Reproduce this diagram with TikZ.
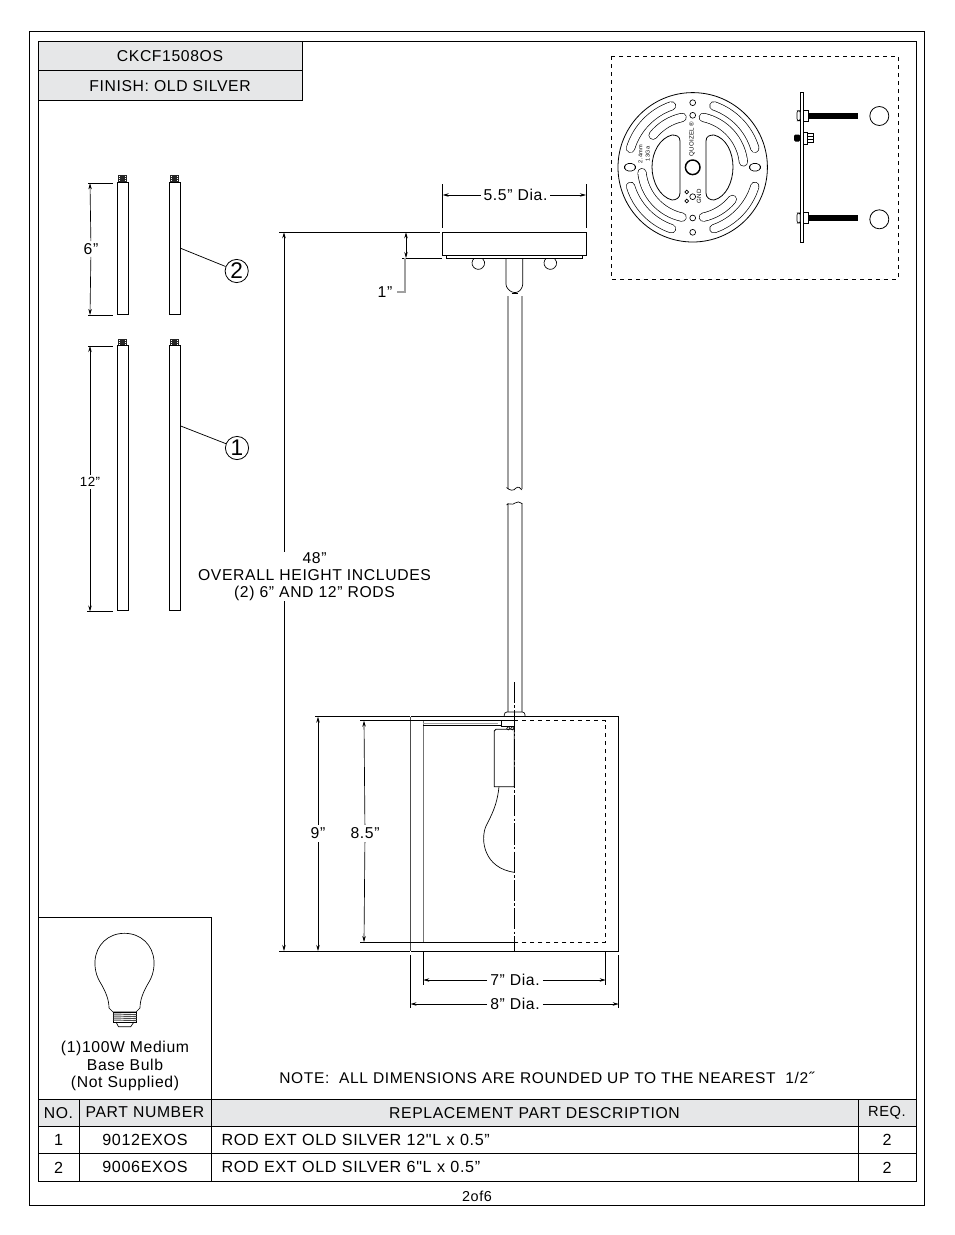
\documentclass[tikz,border=0pt]{standalone}
\usepackage{fontspec}
\setmainfont{Liberation Sans}[LetterSpace=4,Ligatures=TeXOff]
\usetikzlibrary{calc, positioning, arrows.meta}

\begin{document}
\begin{tikzpicture}[
  x=0.75pt,y=-0.75pt,
  line width=0.55pt,
  font=\fontsize{11.8pt}{13pt}\selectfont,
  frameline/.style={line width=0.6pt},
  cell/.style={
    draw,
    line width=0.55pt,
    rectangle,
    anchor=west,
    inner sep=0pt,
    outer sep=0pt,
    minimum width=0.75pt*#1,
    minimum height=20.55pt
    },
  rowcell/.style={
    cell=#1,
    font=\fontsize{12.1pt}{13pt}\selectfont
    },
  leftcell/.style={
    rowcell=#1,
    align=left,
    text width=0.75pt*#1-15.8pt,
    inner xsep=7.9pt
    },
  grayhead/.style={fill=headgray},
  dimline/.style={line width=0.5pt,{Stealth[length=4.5pt,width=2.6pt]}-{Stealth[length=4.5pt,width=2.6pt]}},
  dimtip/.style={line width=0.5pt,-{Stealth[length=4.5pt,width=2.6pt]}},
  extline/.style={line width=0.55pt},
  rodline/.style={line width=1.5pt,draw=rodgray},
  slotblack/.style={line width=6.8pt,line cap=round},
  slotwhite/.style={line width=5.8pt,line cap=round,white},
  hole/.style={draw,line width=0.5pt,fill=white}
]
\definecolor{headgray}{HTML}{E6E7E8}
\definecolor{rodgray}{HTML}{A0A0A0}
\useasboundingbox (0,0) rectangle (954,1235);

% frames
\draw[frameline] (29,31) rectangle (924,1205);
\draw[frameline] (38,41) rectangle (916,1181);

% title boxes
\node[cell=264,grayhead,minimum height=22.2pt] (title1) at (38,56) {CKCF1508OS};
\node[cell=264,grayhead,minimum height=22.2pt,below=0pt of title1.south west,anchor=north west] (title2) {FINISH: OLD SILVER};

% mounting plate
\draw[dashed,line width=0.6pt] (611,56) rectangle (898,279);
\coordinate (platec) at (692.7,167.3);
\draw[line width=0.6pt] (platec) circle[radius=74.7];
\foreach \a/\b/\r in {17/71/65,109/163/65,197/251/65,289/343/65,6/78/51,102/141/51,186/258/51,282/321/51}{
  \draw[slotblack] ($(platec)+(-\a:\r)$) arc[start angle=-\a,end angle=-\b,radius=\r];
}
\foreach \a/\b/\r in {17/71/65,109/163/65,197/251/65,289/343/65,6/78/51,102/141/51,186/258/51,282/321/51}{
  \draw[slotwhite] ($(platec)+(-\a:\r)$) arc[start angle=-\a,end angle=-\b,radius=\r];
}
\draw[line width=0.6pt] (680,141) .. controls (680,136) and (676,135) .. (672,135) .. controls (660,138) and (652,152) .. (652,167) .. controls (652,182) and (660,197) .. (672,200) .. controls (676,200) and (680,198) .. (680,193) -- cycle;
\draw[line width=0.6pt] (706,141) .. controls (706,136) and (710,135) .. (714,135) .. controls (726,138) and (733,152) .. (733,167) .. controls (733,182) and (726,197) .. (714,200) .. controls (710,200) and (706,198) .. (706,193) -- cycle;
\draw[line width=1.1pt] (platec) circle[radius=7.3];
\foreach \hy in {102.7,115.3,218,232.3}{
  \draw[hole] (692.7,\hy) circle[radius=2.9];
}
\draw[hole] (692.7,196.7) circle[radius=2.9];
\draw[hole] (686.7,192) circle[radius=1.9];
\draw[hole] (686.7,201) circle[radius=1.9];
\draw[hole,rounded corners=3pt] (624.5,163.5) rectangle (635.5,171);
\draw[hole,rounded corners=3pt] (749.5,163.5) rectangle (760.5,171);
\node[rotate=90,font=\fontsize{4.6pt}{5pt}\selectfont] (brand) at (692,139) {QUOIZEL ®};
\node[rotate=90,font=\fontsize{4.6pt}{5pt}\selectfont] (gnd) at (699,196) {GND};
\node[rotate=90,align=center,font=\fontsize{4.2pt}{5.4pt}\selectfont] (gauge) at (644,154) {2.4mm\\13Ga};

% plate seen from the side
\draw[line width=0.6pt,fill=white] (800.3,92.7) rectangle (803,242);
\foreach \by/\cy in {115.7/116,218/219.3}{
  \fill (808,\by-3.2) rectangle (858,\by+3.2);
  \draw[fill=white,line width=0.5pt] (803,\by-5.5) rectangle (808,\by+5.5);
  \draw[fill=white,line width=0.5pt,rounded corners=1.5pt] (797,\by-5) rectangle (800.3,\by+5);
  \draw[line width=0.6pt] (879.3,\cy) circle[radius=9.5];
}
\fill[rounded corners=1pt] (794,134.5) rectangle (800.3,141.5);
\draw[fill=white,line width=0.5pt] (803,132) rectangle (807,144);
\draw[fill=white,line width=0.5pt] (807,133.5) rectangle (813,142.5);
\draw[line width=0.5pt] (807,136.5) -- (813,136.5) (807,139.5) -- (813,139.5);

% rods on the left
\foreach \rx in {117.3,169.3}{
  \draw[line width=0.7pt] (\rx,182.3) rectangle (\rx+11.4,314.3);
  \draw[line width=0.7pt] (\rx,345) rectangle (\rx+11.4,610.5);
  \fill[black!85] (\rx+1,175) rectangle (\rx+9.6,182.3);
  \fill[black!85] (\rx+1,338.5) rectangle (\rx+9.6,345);
  \foreach \ty in {176.5,178.5,180.5,340,342,344}{
    \fill[white] (\rx+2,\ty-0.4) rectangle (\rx+2.8,\ty+0.4);
    \fill[white] (\rx+7.8,\ty-0.4) rectangle (\rx+8.6,\ty+0.4);
  }
}
\coordinate (rod6a) at (90,183.3);
\coordinate (rod6b) at (90,315);
\coordinate (rod12a) at (90,346);
\coordinate (rod12b) at (90,611.5);
\draw[extline] (88,183.3) -- (113,183.3);
\draw[extline] (88,315) -- (113,315);
\draw[extline] (88,346) -- (113,346);
\draw[extline] (87,611.5) -- (113,611.5);
\node[fill=white,inner xsep=0pt,inner ysep=1.5pt] (lbl6) at (91,249) {6”};
\node[fill=white,inner xsep=0pt,inner ysep=1.5pt,font=\fontsize{10pt}{12pt}\selectfont] (lbl12) at (90,482) {12”};
\draw[dimtip] (lbl6) -- (rod6a);
\draw[dimtip] (lbl6) -- (rod6b);
\draw[dimtip] (lbl12) -- (rod12a);
\draw[dimtip] (lbl12) -- (rod12b);

\node[circle,draw,line width=0.6pt,minimum size=17.4pt,inner sep=0pt,font=\fontsize{17pt}{17pt}\selectfont] (part2) at (236.7,271) {2};
\node[circle,draw,line width=0.6pt,minimum size=17.4pt,inner sep=0pt,font=\fontsize{17pt}{17pt}\selectfont] (part1) at (237,448) {1};
\coordinate (rod2) at (180.7,248.3);
\coordinate (rod1) at (180.7,426);
\draw (rod2) -- (part2);
\draw (rod1) -- (part1);

% canopy
\draw[line width=0.6pt,fill=white] (442.7,232.3) rectangle (586,255);
\draw[line width=0.5pt] (446.7,255) rectangle (582.3,258.3);
\draw[line width=0.5pt] (474.2,258.3) arc[start angle=229,end angle=-49,radius=6.3];
\draw[line width=0.5pt] (546.2,258.3) arc[start angle=229,end angle=-49,radius=6.3];
\draw[line width=0.5pt,rounded corners=2pt] (506,258.3) -- (506,287) -- (511.7,292.5) -- (518.3,292.5) -- (522.7,287) -- (522.7,258.3);
\draw[line width=1pt] (511.7,293.5) -- (518.3,293.5);

% rod with the break
\draw[rodline] (507.5,296) -- (507.5,489);
\draw[rodline] (521.5,296) -- (521.5,489);
\draw[rodline] (507.5,503) -- (507.5,712);
\draw[rodline] (521.5,503) -- (521.5,712);
\draw[line width=0.5pt] (506.5,487.5) .. controls (510,491) and (514,491) .. (516,488) .. controls (518,486) and (521,488) .. (522,490);
\draw[line width=0.5pt] (506.5,505) .. controls (509,502) and (512,506) .. (515,503) .. controls (517,501) and (520,502) .. (522,503.5);
\draw[line width=0.5pt,rounded corners=2pt,fill=white] (504.3,716.7) -- (504.3,712) -- (525,712) -- (525,716.7);

% shade
\draw[line width=0.7pt,draw=black!70] (410.5,716.7) -- (410.5,951);
\draw[line width=0.7pt,draw=black!55] (423.3,720.7) -- (423.3,942);
\draw[line width=0.6pt] (410.5,716.7) -- (618.7,716.7) -- (618.7,951) -- (410.5,951);
\draw[line width=0.55pt] (423.3,720.7) -- (501,720.7);
\draw[line width=0.7pt,draw=rodgray] (423.3,723) -- (498,723);
\draw[line width=0.55pt] (423.3,725.2) -- (501,725.2);
\draw[dashed,line width=0.6pt] (514.3,720.7) -- (605.7,720.7) -- (605.7,942) -- (514.3,942);
\draw[line width=0.55pt] (423.3,942) -- (514.3,942);
\draw[line width=0.55pt] (501,720.7) rectangle (514.3,726.7);
\draw[line width=0.4pt] (508.3,728.3) circle[radius=1.7];
\draw[line width=0.4pt] (512.3,728.3) circle[radius=1.7];
\draw[line width=0.6pt] (496,729.3) -- (514.3,729.3) -- (514.3,786.7) -- (494.3,786.7) -- (494.3,731) -- cycle;
\draw[line width=0.5pt] (499,786.7) .. controls (497,806) and (491,816) .. (486,826) .. controls (480,840) and (484,868) .. (514.3,872.3);
\draw[line width=0.6pt,dash pattern=on 16pt off 1.6pt on 2pt off 1.6pt] (514.3,682) -- (514.3,952);

% dimensions
\node[fill=white,inner xsep=2pt,inner ysep=0pt] (lbl55) at (515.5,195) {5.5” Dia.};
\coordinate (d55a) at (442.7,195);
\coordinate (d55b) at (586,195);
\draw[dimtip] (lbl55) -- (d55a);
\draw[dimtip] (lbl55) -- (d55b);
\draw[extline] (442.7,184) -- (442.7,228);
\draw[extline] (586,184) -- (586,228);

\coordinate (d1a) at (406,232.3);
\coordinate (d1b) at (406,258);
\draw[dimline] (d1a) -- (d1b);
\draw[extline] (279,232.3) -- (440,232.3);
\draw[extline] (402,258) -- (442,258);
\node (lbl1) at (385,292) {1”};
\draw[draw=rodgray,line width=0.8pt] (405,258) |- (lbl1);

\node[align=center,fill=white,inner sep=0pt,font=\fontsize{11.8pt}{12.9pt}\selectfont] (lbl48) at (314.5,576.5) {48”\\OVERALL HEIGHT INCLUDES\\(2) 6” AND 12” RODS};
\coordinate (d48a) at (284,232.3);
\coordinate (d48b) at (284,951);
\draw[dimtip] (lbl48.north -| d48a) -- (d48a);
\draw[dimtip] (lbl48.south -| d48a) -- (d48b);
\draw[extline] (279,951) -- (410,951);

\node[fill=white,inner xsep=0pt,inner ysep=2pt] (lbl9) at (318,833.5) {9”};
\coordinate (d9a) at (318,716.7);
\coordinate (d9b) at (318,951);
\draw[dimtip] (lbl9) -- (d9a);
\draw[dimtip] (lbl9) -- (d9b);
\draw[extline] (315,716.7) -- (410,716.7);

\node[fill=white,inner xsep=0pt,inner ysep=2pt] (lbl85) at (365,833.5) {8.5”};
\coordinate (d85a) at (364,720.7);
\coordinate (d85b) at (364,942);
\draw[dimtip] (lbl85) -- (d85a);
\draw[dimtip] (lbl85) -- (d85b);
\draw[extline] (360,720.7) -- (423,720.7);
\draw[extline] (360,942) -- (423,942);

\node[fill=white,inner xsep=2pt,inner ysep=0pt] (lbl7) at (515,980) {7” Dia.};
\coordinate (d7a) at (423.3,980);
\coordinate (d7b) at (605.7,980);
\draw[dimtip] (lbl7) -- (d7a);
\draw[dimtip] (lbl7) -- (d7b);
\draw[extline] (423.3,951) -- (423.3,985);
\draw[extline] (605.7,951) -- (605.7,985);

\node[fill=white,inner xsep=2pt,inner ysep=0pt] (lbl8) at (515,1004) {8” Dia.};
\coordinate (d8a) at (410.5,1004);
\coordinate (d8b) at (618.7,1004);
\draw[dimtip] (lbl8) -- (d8a);
\draw[dimtip] (lbl8) -- (d8b);
\draw[extline] (410.5,955) -- (410.5,1008);
\draw[extline] (618.7,955) -- (618.7,1008);

% bulb box
\draw[line width=0.55pt] (38,917) rectangle (211,1099);
\draw[line width=0.5pt] (109,1008) .. controls (109,1000) and (106,992) .. (100,982) .. controls (94,972) and (95,962) .. (95,961) .. controls (96,945) and (108,933.3) .. (124.5,933.3) .. controls (141,933.3) and (153,945) .. (154,961) .. controls (154,962) and (155,972) .. (149,982) .. controls (143,992) and (140,1000) .. (140,1008);
\draw[line width=0.5pt] (109,1008) -- (113,1012) -- (136,1012) -- (140,1008);
\draw[line width=0.5pt] (113,1012) rectangle (136.5,1022);
\foreach \ty in {1014,1016,1018,1020}{
  \draw[line width=0.7pt,draw=black!70] (113,\ty) -- (136.5,\ty+0.6);
}
\draw[line width=0.5pt] (116,1022) -- (118.5,1026.7) -- (130.7,1026.7) -- (134,1022);
\node[align=center,inner sep=0pt,font=\fontsize{11.8pt}{13.1pt}\selectfont] (bulbtxt) at (125,1066) {(1)100W Medium\\Base Bulb\\(Not Supplied)};

\node[anchor=west,inner sep=0pt,font=\fontsize{11.65pt}{13pt}\selectfont] (note) at (279,1078) {NOTE:\ \ ALL DIMENSIONS ARE ROUNDED UP TO THE NEAREST\ \ 1/2˝};

% parts table
\node[cell=41,grayhead] (hno) at (38,1112.6) {NO.};
\node[cell=132,grayhead,right=0pt of hno] (hpart) {PART NUMBER};
\node[cell=647,grayhead,right=0pt of hpart] (hdesc) {REPLACEMENT PART DESCRIPTION};
\node[cell=58,grayhead,right=0pt of hdesc,font=\fontsize{11pt}{13pt}\selectfont] (hreq) {REQ.};

\node[rowcell=41,below=0pt of hno.south west,anchor=north west] (no1) {1};
\node[rowcell=132,right=0pt of no1] (part1no) {9012EXOS};
\node[leftcell=647,right=0pt of part1no] (desc1) {ROD EXT OLD SILVER 12"L x 0.5”};
\node[rowcell=58,right=0pt of desc1] (req1) {2};

\node[rowcell=41,below=0pt of no1.south west,anchor=north west] (no2) {2};
\node[rowcell=132,right=0pt of no2] (part2no) {9006EXOS};
\node[leftcell=647,right=0pt of part2no] (desc2) {ROD EXT OLD SILVER 6"L x 0.5”};
\node[rowcell=58,right=0pt of desc2] (req2) {2};

\node[font=\fontsize{10.8pt}{12pt}\selectfont] (pageno) at (477,1196) {2of6};

\end{tikzpicture}
\end{document}
